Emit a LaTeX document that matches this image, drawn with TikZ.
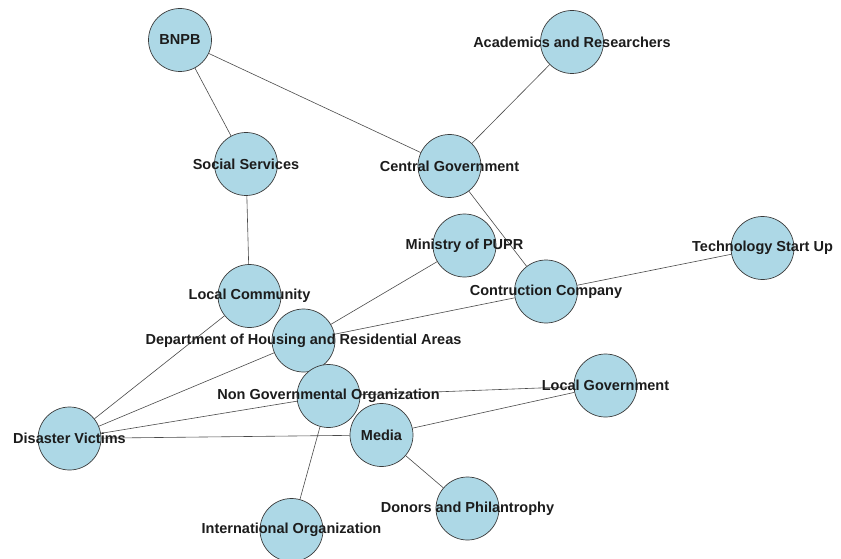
\documentclass[tikz,border=0pt]{standalone}
\usepackage{fontspec}
\setmainfont{Liberation Sans}
\definecolor{nodefill}{HTML}{ADD8E6}
\definecolor{nodeedge}{HTML}{3A3A3A}
\definecolor{edgecol}{HTML}{4A4A4A}
\definecolor{txtcol}{HTML}{1C1C1C}
\begin{document}
\begin{tikzpicture}[x=1pt,y=-1pt,
  actor/.style={circle,minimum size=63pt,inner sep=0pt,fill=nodefill,draw=nodeedge,line width=0.7pt},
  lbl/.style={inner sep=0pt,text=txtcol,font=\bfseries\fontsize{14.5}{17}\selectfont},
  link/.style={draw=edgecol,line width=0.6pt}]
\useasboundingbox (0,0) rectangle (841,559);
% node positions
\coordinate (p-bnpb) at (180,40);
\coordinate (p-acad) at (572,42);
\coordinate (p-soc) at (246,164);
\coordinate (p-cg) at (449.5,166);
\coordinate (p-min) at (464.5,245.5);
\coordinate (p-tech) at (762.5,248);
\coordinate (p-lc) at (249.5,296);
\coordinate (p-cc) at (546,291.5);
\coordinate (p-dh) at (303.5,340.5);
\coordinate (p-ngo) at (328.5,396);
\coordinate (p-lg) at (605.5,385.5);
\coordinate (p-dv) at (69.5,438.5);
\coordinate (p-med) at (381.5,435);
\coordinate (p-don) at (467.5,508.5);
\coordinate (p-io) at (291.5,530);
% circles
\node[actor] (bnpb) at (p-bnpb) {};
\node[actor] (acad) at (p-acad) {};
\node[actor] (soc) at (p-soc) {};
\node[actor] (cg) at (p-cg) {};
\node[actor] (min) at (p-min) {};
\node[actor] (tech) at (p-tech) {};
\node[actor] (lc) at (p-lc) {};
\node[actor] (cc) at (p-cc) {};
\node[actor] (dh) at (p-dh) {};
\node[actor] (ngo) at (p-ngo) {};
\node[actor] (lg) at (p-lg) {};
\node[actor] (dv) at (p-dv) {};
\node[actor] (med) at (p-med) {};
\node[actor] (don) at (p-don) {};
\node[actor] (io) at (p-io) {};
% edges
\draw[link] (bnpb) -- (soc);
\draw[link] (bnpb) -- (cg);
\draw[link] (acad) -- (cg);
\draw[link] (cg) -- (cc);
\draw[link] (soc) -- (lc);
\draw[link] (tech) -- (cc);
\draw[link] (cc) -- (dh);
\draw[link] (min) -- (dh);
\draw[link] (lc) -- (dv);
\draw[link] (dh) -- (dv);
\draw[link] (ngo) -- (dv);
\draw[link] (med) -- (dv);
\draw[link] (ngo) -- (lg);
\draw[link] (med) -- (lg);
\draw[link] (med) -- (don);
\draw[link] (ngo) -- (io);
% labels
\node[lbl] (t-bnpb) at (p-bnpb) {BNPB};
\node[lbl] (t-acad) at (p-acad) {Academics and Researchers};
\node[lbl] (t-soc) at (p-soc) {Social Services};
\node[lbl] (t-cg) at (p-cg) {Central Government};
\node[lbl] (t-min) at (p-min) {Ministry of PUPR};
\node[lbl] (t-tech) at (p-tech) {Technology Start Up};
\node[lbl] (t-lc) at (p-lc) {Local Community};
\node[lbl] (t-cc) at (p-cc) {Contruction Company};
\node[lbl] (t-dh) at (p-dh) {Department of Housing and Residential Areas};
\node[lbl] (t-ngo) at (p-ngo) {Non Governmental Organization};
\node[lbl] (t-lg) at (p-lg) {Local Government};
\node[lbl] (t-dv) at (p-dv) {Disaster Victims};
\node[lbl] (t-med) at (p-med) {Media};
\node[lbl] (t-don) at (p-don) {Donors and Philantrophy};
\node[lbl] (t-io) at (p-io) {International Organization};
\end{tikzpicture}
\end{document}
